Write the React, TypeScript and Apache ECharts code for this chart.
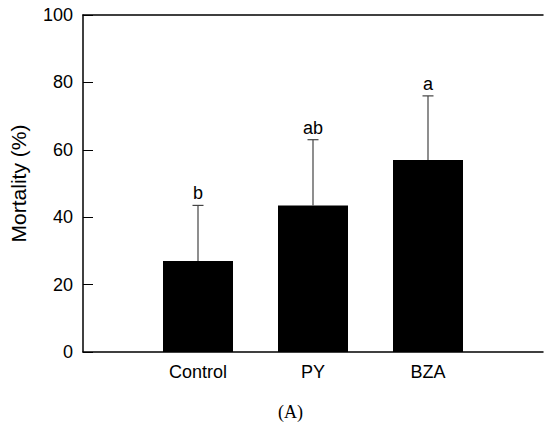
import React, { useEffect, useRef } from "react";
import * as echarts from "echarts";

const categories = ["", "Control", "PY", "BZA", ""];
const means = [null, 27, 43.5, 57, null];
const upper = [null, 43.5, 63, 76, null];
const letters = ["", "b", "ab", "a", ""];
const yTicks = { min: 0, max: 100, interval: 20 };

export default function App() {
  const ref = useRef<HTMLDivElement>(null);
  useEffect(() => {
    const chart = echarts.init(ref.current!, null, { renderer: "svg" });
    const errData = categories
      .map((c, i) => (means[i] == null ? null : [i, means[i], upper[i], letters[i]]))
      .filter((d) => d != null);
    chart.setOption({
      animation: false,
      backgroundColor: "#ffffff",
      grid: { left: 81, top: 15, bottom: 76, width: 467 },
      xAxis: [
        {
          type: "category",
          data: categories,
          boundaryGap: false,
          axisLine: { show: true, lineStyle: { color: "#000", width: 1.5 } },
          axisTick: { show: false },
          axisLabel: {
            interval: 0,
            color: "#000",
            fontSize: 18,
            fontFamily: "Liberation Sans",
            margin: 11,
          },
          splitLine: { show: false },
        },
        {
          type: "category",
          data: categories,
          position: "top",
          boundaryGap: false,
          axisLine: { show: true, lineStyle: { color: "#000", width: 1.5 } },
          axisTick: { show: false },
          axisLabel: { show: false },
          splitLine: { show: false },
        },
      ],
      yAxis: {
        type: "value",
        min: yTicks.min,
        max: yTicks.max,
        interval: yTicks.interval,
        name: "Mortality (%)",
        nameLocation: "middle",
        nameGap: 54,
        nameTextStyle: { color: "#000", fontSize: 21, fontFamily: "Liberation Sans" },
        axisLine: { show: true, lineStyle: { color: "#000", width: 1.5 } },
        axisTick: { show: true, inside: true, length: 10, lineStyle: { color: "#000", width: 1 } },
        axisLabel: { color: "#000", fontSize: 18, fontFamily: "Liberation Sans", margin: 10 },
        splitLine: { show: false },
      },
      series: [
        {
          type: "bar",
          data: means,
          barWidth: 70,
          itemStyle: { color: "#000" },
          z: 2,
        },
        {
          type: "custom",
          data: errData,
          z: 3,
          renderItem: (params: any, api: any) => {
            const x = api.value(0);
            const top = api.coord([x, api.value(1)]);
            const up = api.coord([x, api.value(2)]);
            const letter = errData[params.dataIndex]![3] as string;
            const cap = 5.5;
            return {
              type: "group",
              children: [
                {
                  type: "line",
                  shape: { x1: top[0], y1: top[1], x2: up[0], y2: up[1] },
                  style: { stroke: "#444", lineWidth: 1.2 },
                },
                {
                  type: "line",
                  shape: { x1: up[0] - cap, y1: up[1], x2: up[0] + cap, y2: up[1] },
                  style: { stroke: "#444", lineWidth: 1.2 },
                },
                {
                  type: "text",
                  x: up[0],
                  y: up[1] - 3,
                  style: {
                    text: letter,
                    fill: "#000",
                    fontSize: 18,
                    fontFamily: "Liberation Sans",
                    align: "center",
                    verticalAlign: "bottom",
                  },
                },
              ],
            };
          },
        },
      ],
      graphic: [
        {
          type: "text",
          left: 278,
          top: 403,
          style: {
            text: "(A)",
            fill: "#000",
            fontSize: 18,
            fontFamily: "Liberation Serif",
          },
        },
      ],
    });
    return () => chart.dispose();
  }, []);
  return <div ref={ref} style={{ width: 546, height: 428, position: "absolute", left: 0, top: 0 }} />;
}
